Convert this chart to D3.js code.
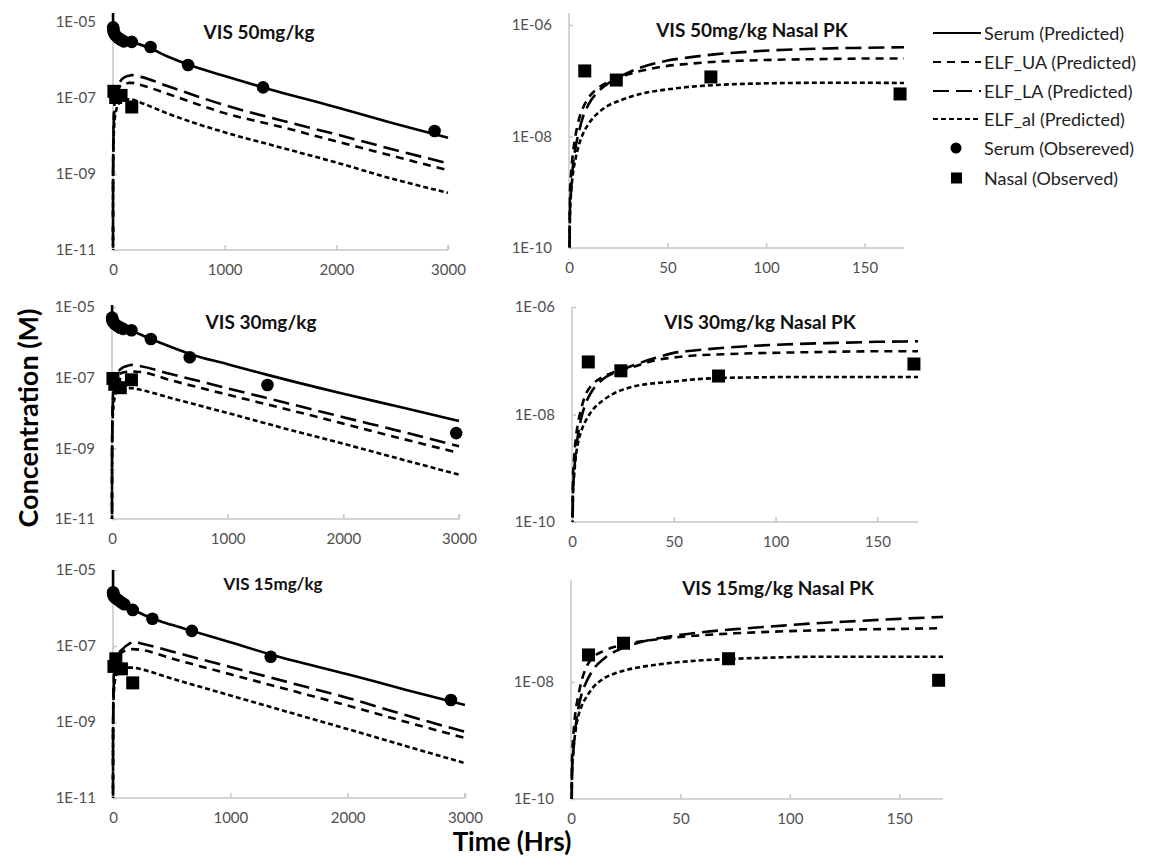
<!DOCTYPE html>
<meta charset="utf-8">
<head>
  <script src="https://d3js.org/d3.v7.min.js"></script>
  <style>
    body { margin: 0; background: #fff; }
    text { font-family: Lato, "Open Sans", sans-serif; }
  </style>
</head>
<body>
  <svg id="svg" width="1150" height="861"></svg>
  <script>
    // model output times (hours) for the serum curve
    const serumTimes = [0, 1, 10, 24, 48, 100, 168, 336, 500, 672, 1000, 1344, 2000, 2500, 3000];
    const serum50 = [3e-5, 7.0e-6, 5.4e-6, 4.6e-6, 3.9e-6, 3.3e-6, 3.0e-6, 2.0e-6, 1.2e-6, 7.6e-7, 3.8e-7, 1.9e-7, 5.7e-8, 2.2e-8, 9e-9];
    const serum30 = [3e-5, 5.5e-6, 4.2e-6, 3.5e-6, 2.9e-6, 2.4e-6, 2.1e-6, 1.24e-6, 7.6e-7, 4.7e-7, 2.4e-7, 1.2e-7, 3.5e-8, 1.45e-8, 5.9e-9];
    const serum15 = [2e-5, 2.4e-6, 1.9e-6, 1.6e-6, 1.35e-6, 1.1e-6, 9e-7, 5.3e-7, 3.6e-7, 2.5e-7, 1.25e-7, 6e-8, 1.8e-8, 7e-9, 2.8e-9];

    // model output times (hours) for the ELF curves
    const elfTimes = [0, 0.5, 1, 2, 3, 5, 7, 10, 15, 20, 25, 30, 40, 50, 60, 75, 90, 110, 130, 150, 170, 250, 500, 1000, 1500, 2000, 2500, 3000];
    const ua50 = [1e-12, 1e-9, 2e-9, 5e-9, 9e-9, 2e-8, 3.2e-8, 5e-8, 7.5e-8, 9.5e-8, 1.1e-7, 1.3e-7, 1.6e-7, 1.85e-7, 2.0e-7, 2.2e-7, 2.3e-7, 2.4e-7, 2.45e-7, 2.5e-7, 2.5e-7, 2.2e-7, 1.25e-7, 4e-8, 1.75e-8, 7.2e-9, 3e-9, 1.25e-9];
    const la50 = [1e-12, 5e-10, 1e-9, 3e-9, 5.5e-9, 1.2e-8, 2.2e-8, 3.8e-8, 6.5e-8, 9e-8, 1.15e-7, 1.4e-7, 1.9e-7, 2.3e-7, 2.6e-7, 3.0e-7, 3.3e-7, 3.6e-7, 3.8e-7, 3.9e-7, 4.0e-7, 3.6e-7, 2.0e-7, 6.5e-8, 2.6e-8, 1.1e-8, 4.5e-9, 1.9e-9];
    const al50 = [1e-12, 4e-10, 9e-10, 2.2e-9, 3.5e-9, 7e-9, 1.1e-8, 1.7e-8, 2.7e-8, 3.6e-8, 4.3e-8, 5e-8, 6.2e-8, 7e-8, 7.7e-8, 8.4e-8, 8.8e-8, 9.1e-8, 9.2e-8, 9.2e-8, 9.1e-8, 7.5e-8, 3.8e-8, 1.25e-8, 5e-9, 2e-9, 7.5e-10, 3.2e-10];
    const ua30 = [1e-12, 7e-10, 1.5e-9, 4e-9, 7e-9, 1.5e-8, 2.5e-8, 3.6e-8, 5e-8, 6e-8, 6.9e-8, 7.7e-8, 1.0e-7, 1.15e-7, 1.25e-7, 1.32e-7, 1.38e-7, 1.43e-7, 1.47e-7, 1.5e-7, 1.5e-7, 1.45e-7, 8.6e-8, 3.3e-8, 1.3e-8, 5e-9, 1.9e-9, 7.4e-10];
    const la30 = [1e-12, 4e-10, 8e-10, 2.3e-9, 4.3e-9, 1e-8, 1.7e-8, 2.8e-8, 4.5e-8, 5.8e-8, 7e-8, 8.2e-8, 1.1e-7, 1.4e-7, 1.55e-7, 1.75e-7, 1.9e-7, 2.05e-7, 2.15e-7, 2.25e-7, 2.3e-7, 2.1e-7, 1.29e-7, 5e-8, 1.95e-8, 7.6e-9, 3e-9, 1.15e-9];
    const al30 = [1e-12, 3.5e-10, 7e-10, 1.8e-9, 3e-9, 5.5e-9, 8e-9, 1.2e-8, 1.8e-8, 2.4e-8, 2.9e-8, 3.3e-8, 3.8e-8, 4.1e-8, 4.5e-8, 4.8e-8, 4.9e-8, 5e-8, 5e-8, 5e-8, 5e-8, 4.5e-8, 2.7e-8, 1e-8, 3.6e-9, 1.35e-9, 4.9e-10, 1.8e-10];
    const ua15 = [1e-12, 5e-10, 1.1e-9, 3e-9, 5e-9, 1.1e-8, 1.8e-8, 2.6e-8, 3.4e-8, 4e-8, 4.4e-8, 4.8e-8, 5.4e-8, 5.9e-8, 6.3e-8, 6.8e-8, 7.2e-8, 7.6e-8, 7.9e-8, 8.1e-8, 8.3e-8, 7.8e-8, 4.7e-8, 1.8e-8, 7e-9, 2.7e-9, 1e-9, 3.8e-10];
    const la15 = [1e-12, 3e-10, 6e-10, 1.6e-9, 3e-9, 6.5e-9, 1e-8, 1.6e-8, 2.5e-8, 3.3e-8, 4e-8, 4.6e-8, 5.6e-8, 6.4e-8, 7.1e-8, 8e-8, 8.8e-8, 1.0e-7, 1.1e-7, 1.2e-7, 1.3e-7, 1.15e-7, 7.2e-8, 2.8e-8, 1.1e-8, 4.3e-9, 1.5e-9, 5.5e-10];
    const al15 = [1e-12, 3e-10, 6e-10, 1.4e-9, 2.3e-9, 4e-9, 5.5e-9, 8e-9, 1.15e-8, 1.4e-8, 1.6e-8, 1.75e-8, 2e-8, 2.2e-8, 2.35e-8, 2.5e-8, 2.6e-8, 2.7e-8, 2.7e-8, 2.7e-8, 2.7e-8, 2.4e-8, 1.4e-8, 5e-9, 1.8e-9, 6.5e-10, 2.3e-10, 8.3e-11];

    // observed data [time, concentration]
    const serumObs50 = [[1, 7.2e-6], [2, 6.6e-6], [4, 6.0e-6], [8, 5.2e-6], [24, 4.4e-6], [48, 3.8e-6], [72, 3.4e-6], [96, 3.1e-6], [168, 3.0e-6], [336, 2.2e-6], [672, 7.4e-7], [1344, 1.9e-7], [2880, 1.35e-8]];
    const serumObs30 = [[1, 5.0e-6], [2, 4.6e-6], [4, 4.2e-6], [8, 3.8e-6], [24, 3.3e-6], [48, 2.9e-6], [72, 2.6e-6], [96, 2.4e-6], [168, 2.2e-6], [336, 1.24e-6], [672, 3.8e-7], [1344, 6.2e-8], [2976, 2.7e-9]];
    const serumObs15 = [[1, 2.6e-6], [2, 2.4e-6], [4, 2.2e-6], [8, 2.0e-6], [24, 1.8e-6], [48, 1.6e-6], [72, 1.4e-6], [96, 1.25e-6], [168, 8.9e-7], [336, 5.2e-7], [672, 2.5e-7], [1344, 5.2e-8], [2880, 3.8e-9]];
    const nasalObs50 = [[8, 1.5e-7], [24, 1.03e-7], [72, 1.17e-7], [168, 5.8e-8]];
    const nasalObs30 = [[8, 9.5e-8], [24, 6.5e-8], [72, 5.2e-8], [168, 8.7e-8]];
    const nasalObs15 = [[8, 2.9e-8], [24, 4.6e-8], [72, 2.5e-8], [168, 1.07e-8]];

    const titles = ["VIS 50mg/kg", "VIS 50mg/kg Nasal PK", "VIS 30mg/kg", "VIS 30mg/kg Nasal PK", "VIS 15mg/kg", "VIS 15mg/kg Nasal PK"];
    const longTicks = [0, 1000, 2000, 3000];
    const shortTicks = [0, 50, 100, 150];
    const legendLabels = ["Serum (Predicted)", "ELF_UA (Predicted)", "ELF_LA (Predicted)", "ELF_al (Predicted)", "Serum (Obsereved)", "Nasal (Observed)"];

    const dash = { serum: null, ua: "8,6", la: "16,7", al: "5,3" };

    const zip = (ts, vs) => ts.map((t, i) => [t, vs[i]]);

    const doses = [
      { serum: zip(serumTimes, serum50), ua: zip(elfTimes, ua50), la: zip(elfTimes, la50), al: zip(elfTimes, al50), sObs: serumObs50, nObs: nasalObs50 },
      { serum: zip(serumTimes, serum30), ua: zip(elfTimes, ua30), la: zip(elfTimes, la30), al: zip(elfTimes, al30), sObs: serumObs30, nObs: nasalObs30 },
      { serum: zip(serumTimes, serum15), ua: zip(elfTimes, ua15), la: zip(elfTimes, la15), al: zip(elfTimes, al15), sObs: serumObs15, nObs: nasalObs15 }
    ];

    // panel frames: left, right, bottom px, top-tick px, axis top px
    const panels = [
      { dose: 0, long: true, left: 113, right: 448, bottom: 250, tickTop: 22, top: 13, yMin: 1e-11, yMax: 1e-5, title: [259, 39, 19] },
      { dose: 0, long: false, left: 569, right: 904, bottom: 248, tickTop: 25, top: 13, yMin: 1e-10, yMax: 1e-6, title: [752, 37, 19] },
      { dose: 1, long: true, left: 112, right: 459, bottom: 519, tickTop: 307, top: 305, yMin: 1e-11, yMax: 1e-5, title: [261, 329, 19] },
      { dose: 1, long: false, left: 572, right: 918, bottom: 522, tickTop: 307, top: 307, yMin: 1e-10, yMax: 1e-6, title: [760, 329, 19] },
      { dose: 2, long: true, left: 113, right: 465, bottom: 798, tickTop: 570, top: 570, yMin: 1e-11, yMax: 1e-5, title: [273, 590, 17] },
      { dose: 2, long: false, left: 571, right: 943, bottom: 799, tickTop: 682, top: 580, yMin: 1e-10, yMax: 1e-8, title: [778, 595, 19] }
    ];

    const svg = d3.select("#svg");
    const axisColor = "#c6c6c6";
    const labelColor = "#505050";

    panels.forEach((p, i) => {
      const d = doses[p.dose];
      const xMax = p.long ? 3000 : 170;
      const x = d3.scaleLinear().domain([0, xMax]).range([p.left, p.right]);
      const y = d3.scaleLog().domain([p.yMin, p.yMax]).range([p.bottom, p.tickTop]);
      const g = svg.append("g");

      const yTicks = p.long ? [1e-11, 1e-9, 1e-7, 1e-5] : (p.yMax === 1e-6 ? [1e-10, 1e-8, 1e-6] : [1e-10, 1e-8]);
      const fmt = v => "1E-" + String(Math.round(-Math.log10(v))).padStart(2, "0");

      // axes
      const xa = g.append("g").attr("transform", `translate(0,${p.bottom})`)
        .call(d3.axisBottom(x).tickValues(p.long ? longTicks : shortTicks).tickFormat(d3.format("d"))
          .tickSizeInner(-5).tickSizeOuter(0).tickPadding(14));
      const ya = g.append("g").attr("transform", `translate(${p.left},0)`)
        .call(d3.axisLeft(y).tickValues(yTicks).tickFormat(fmt).tickSizeInner(-4).tickSizeOuter(0).tickPadding(17));
      [xa, ya].forEach(a => {
        a.select(".domain").remove();
        a.selectAll("line").attr("stroke", axisColor).attr("stroke-width", 1.5);
        a.selectAll("text").attr("fill", labelColor).style("font-size", "15px").style("font-family", "Lato, sans-serif");
      });
      g.append("line").attr("x1", p.left).attr("x2", p.right).attr("y1", p.bottom).attr("y2", p.bottom)
        .attr("stroke", axisColor).attr("stroke-width", 1.5);
      g.append("line").attr("x1", p.left).attr("x2", p.left).attr("y1", p.top).attr("y2", p.bottom)
        .attr("stroke", axisColor).attr("stroke-width", 1.5);
      if (p.long) {
        g.append("line").attr("x1", p.right).attr("x2", p.right).attr("y1", p.bottom - 5).attr("y2", p.bottom)
          .attr("stroke", axisColor).attr("stroke-width", 1.5);
      }

      // clip
      const clipId = "clip" + i;
      svg.append("clipPath").attr("id", clipId).append("rect")
        .attr("x", p.left - 3).attr("y", p.top).attr("width", p.right - p.left + 6).attr("height", p.bottom - p.top);

      const line = d3.line().x(v => x(v[0])).y(v => y(v[1])).curve(d3.curveMonotoneX);
      const keep = pts => p.long ? pts : pts.filter(v => v[0] <= 170);
      const series = p.long ? ["serum", "la", "ua", "al"] : ["la", "ua", "al"];
      const lines = g.append("g").attr("clip-path", `url(#${clipId})`);
      series.forEach(k => {
        lines.append("path").datum(keep(d[k])).attr("d", line)
          .attr("fill", "none").attr("stroke", "#000").attr("stroke-width", 2.6)
          .attr("stroke-dasharray", dash[k]);
      });

      // observed markers
      if (p.long) {
        g.append("g").selectAll("circle").data(d.sObs).join("circle")
          .attr("cx", v => x(v[0])).attr("cy", v => y(v[1])).attr("r", 6.3).attr("fill", "#000");
      }
      g.append("g").selectAll("rect").data(d.nObs).join("rect")
        .attr("x", v => x(v[0]) - 6.5).attr("y", v => y(v[1]) - 6.5).attr("width", 13).attr("height", 13).attr("fill", "#000");

      g.append("text").attr("x", p.title[0]).attr("y", p.title[1]).attr("text-anchor", "middle")
        .style("font-size", p.title[2] + "px").style("font-weight", "bold").attr("fill", "#111").text(titles[i]);
    });

    // axis titles
    svg.append("text").attr("transform", "translate(27,418) rotate(-90)").attr("text-anchor", "middle")
      .attr("dominant-baseline", "central").style("font-size", "27px").style("font-weight", "bold").text("Concentration (M)");
    svg.append("text").attr("x", 512).attr("y", 851).attr("text-anchor", "middle")
      .style("font-size", "26px").style("font-weight", "bold").text("Time (Hrs)");

    // legend
    const legendY = [33, 62, 91, 119, 148, 178];
    const legendKeys = ["serum", "ua", "la", "al"];
    const lg = svg.append("g");
    legendLabels.forEach((lab, i) => {
      const yy = legendY[i];
      if (i < 4) {
        lg.append("line").attr("x1", 933).attr("x2", 981).attr("y1", yy).attr("y2", yy)
          .attr("stroke", "#000").attr("stroke-width", 2).attr("stroke-dasharray", dash[legendKeys[i]]);
      } else if (i === 4) {
        lg.append("circle").attr("cx", 956).attr("cy", yy).attr("r", 5.5).attr("fill", "#000");
      } else {
        lg.append("rect").attr("x", 951).attr("y", yy - 5.5).attr("width", 11).attr("height", 11).attr("fill", "#000");
      }
      lg.append("text").attr("x", 984).attr("y", yy).attr("dominant-baseline", "central")
        .style("font-size", "18px").attr("fill", "#222").text(lab);
    });
  </script>
</body>
